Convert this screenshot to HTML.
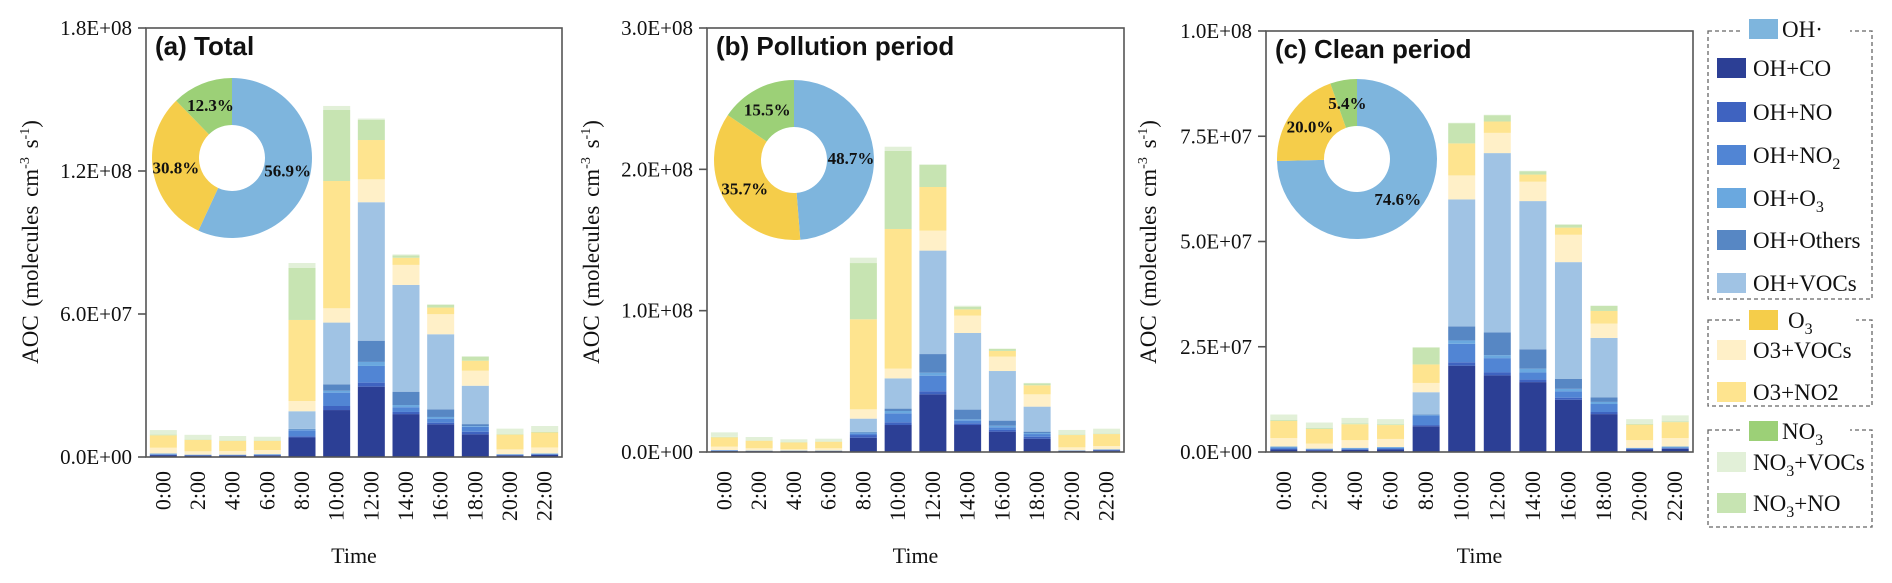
<!DOCTYPE html>
<html><head><meta charset="utf-8"><style>
html,body{margin:0;padding:0;background:#fff;}
svg{display:block;font-family:"Liberation Serif",serif;}
.ttl{font-family:"Liberation Sans",sans-serif;font-weight:bold;font-size:26px;}
</style></head><body>
<svg id="chart" width="1892" height="583" viewBox="0 0 1892 583" xmlns="http://www.w3.org/2000/svg"></svg>
<script>
const categories = ["0:00","2:00","4:00","6:00","8:00","10:00","12:00","14:00","16:00","18:00","20:00","22:00"];
const seriesNames = ["OH+CO","OH+NO","OH+NO2","OH+O3","OH+Others","OH+VOCs","O3+VOCs","O3+NO2","NO3+NO","NO3+VOCs"];
const seriesColors = ["#2c3f95","#3f63c0","#5185d4","#6aa8df","#5787c4","#a0c3e4","#fff0c8","#fee48f","#c7e4b2","#e2f0d8"];
// Panel (a) Total, values in 1e6 molecules cm-3 s-1
const totalCO     = [0.8,0.6,0.6,0.7,8.2,19.7,29.5,18,13.7,9.5,0.7,0.9];
const totalNO     = [0.1,0.1,0.1,0.1,0.5,1.7,1.7,0.9,0.7,1.1,0.1,0.1];
const totalNO2    = [0.3,0.2,0.2,0.2,2.5,5.6,7,2,1.7,2.1,0.2,0.3];
const totalO3     = [0.2,0.1,0.1,0.2,0.3,0.8,1.7,0.9,0.7,0.3,0.2,0.2];
const totalOthers = [0.1,0,0,0,0.3,2.7,8.9,5.6,3.2,0.8,0,0];
const totalVOCs   = [0,0,0,0,7.4,25.9,58.1,44.8,31.5,16.1,0,0];
const totalO3VOCs = [2.4,1.4,1.5,1.7,4.3,6,9.6,8.4,8.4,6.3,2.0,2.5];
const totalO3NO2  = [5.2,4.8,4.3,3.9,34,53.4,16.5,3,2.8,4.2,6.2,6.3];
const totalNO3NO  = [0.3,0.2,0.2,0.2,21.8,29.8,8.4,1,1.1,1.7,0.2,0.2];
const totalNO3VOCs= [1.9,1.9,1.8,1.5,2.1,1.7,0.6,0.4,0.3,0.2,2.3,2.5];
// Panel (b) Pollution period
const pollCO     = [0.8,0.6,0.6,0.6,10.1,19.1,40.8,19.1,14.4,9.4,0.7,1.1];
const pollNO     = [0.1,0.1,0.1,0.1,1.9,1.9,2.1,1.2,1.2,1.4,0.1,0.2];
const pollNO2    = [0.3,0.2,0.2,0.2,1.2,6.4,11.1,1.9,1.9,1.9,0.2,0.4];
const pollO3     = [0.2,0.1,0.1,0.1,0.5,1.6,2.1,0.9,1.1,0.7,0.2,0.2];
const pollOthers = [0,0,0,0,0.5,1.7,13.2,6.9,3.6,1,0,0];
const pollVOCs   = [0,0,0,0,9.4,21.4,73.2,54.2,35.1,17.7,0,0];
const pollO3VOCs = [2.4,1.6,0.9,1.6,6.6,6.9,14.1,12.3,10.2,8.7,2.1,2.3];
const pollO3NO2  = [6.6,5.4,4.9,4.7,63.7,98.8,30.9,4.4,4,6.4,8.7,8.5];
const pollNO3NO  = [0.3,0.2,0.2,0.2,39.8,55.2,15.8,1.9,1.4,1.4,0.3,0.3];
const pollNO3VOCs= [3.2,2.4,2.0,1.9,3.8,3,0.2,0.7,0.3,0.3,3.3,3.5];
// Panel (c) Clean period
const cleanCO     = [0.6,0.4,0.5,0.6,6.1,20.5,18.2,16.6,12.4,9,0.6,0.8];
const cleanNO     = [0.1,0.1,0.1,0.1,0.3,0.8,0.7,0.6,0.5,0.5,0.1,0.1];
const cleanNO2    = [0.4,0.2,0.2,0.3,2.3,4.4,3.4,1.7,1.5,1.9,0.2,0.2];
const cleanO3     = [0.2,0.1,0.2,0.2,0.1,0.8,0.7,0.9,0.6,0.5,0.1,0.2];
const cleanOthers = [0,0,0,0,0.1,3.3,5.4,4.6,2.4,1.1,0,0];
const cleanVOCs   = [0,0,0,0,5.3,30.2,42.6,35.2,27.7,14.1,0,0];
const cleanO3VOCs = [2.0,1.2,1.8,1.9,2.2,5.7,4.8,4.6,6.5,3.4,1.8,2.0];
const cleanO3NO2  = [4.1,3.5,3.8,3.3,4.4,7.6,2.7,1.7,1.7,3,3.7,3.8];
const cleanNO3NO  = [0.2,0.2,0.2,0.2,4.0,4.8,1.5,0.8,0.7,1.2,0.2,0.2];
const cleanNO3VOCs= [1.3,1.3,1.3,1.2,0.1,0.1,0.1,0.1,0.1,0.1,1.1,1.4];
// Donut shares (%)
const pieLabels = ["OH·","O3","NO3"];
const pieColors = ["#7eb5dd","#f5cd4a","#9cd077"];
const pieTotal = [56.9,30.8,12.3];
const piePoll  = [48.7,35.7,15.5];
const pieClean = [74.6,20.0,5.4];
// Tick labels
const ticksA = ["0.0E+00","6.0E+07","1.2E+08","1.8E+08"];
const ticksB = ["0.0E+00","1.0E+08","2.0E+08","3.0E+08"];
const ticksC = ["0.0E+00","2.5E+07","5.0E+07","7.5E+07","1.0E+08"];
const tickValsA = [0,60,120,180];
const tickValsB = [0,100,200,300];
const tickValsC = [0,25,50,75,100];

const NS="http://www.w3.org/2000/svg";
const svg=document.getElementById('chart');
function mk(tag,attrs,parent){const e=document.createElementNS(NS,tag);for(const k in attrs)e.setAttribute(k,attrs[k]);(parent||svg).appendChild(e);return e;}

const panels=[
 {key:'a',title:'(a) Total',x0:146,w:416,top:28,bot:457,max:180,ticks:ticksA,tv:tickValsA,ylx:30,
  data:[totalCO,totalNO,totalNO2,totalO3,totalOthers,totalVOCs,totalO3VOCs,totalO3NO2,totalNO3NO,totalNO3VOCs],
  pie:pieTotal,cx:232,cy:158},
 {key:'b',title:'(b) Pollution period',x0:707,w:417,top:28,bot:452,max:300,ticks:ticksB,tv:tickValsB,ylx:591,
  data:[pollCO,pollNO,pollNO2,pollO3,pollOthers,pollVOCs,pollO3VOCs,pollO3NO2,pollNO3NO,pollNO3VOCs],
  pie:piePoll,cx:794,cy:160},
 {key:'c',title:'(c) Clean period',x0:1266,w:427,top:31,bot:452,max:100,ticks:ticksC,tv:tickValsC,ylx:1148,
  data:[cleanCO,cleanNO,cleanNO2,cleanO3,cleanOthers,cleanVOCs,cleanO3VOCs,cleanO3NO2,cleanNO3NO,cleanNO3VOCs],
  pie:pieClean,cx:1357,cy:159}
];

panels.forEach(p=>{
  const g=mk('g',{});
  
  
  const band=p.w/categories.length, bw=27;
  const y=v=>p.bot-(v/p.max)*(p.bot-p.top);
  const xc=i=>p.x0+band*(i+0.5);
  categories.forEach((c,i)=>{
    let acc=0;
    p.data.forEach((arr,s)=>{
      const v=arr[i]; if(v<=0) return;
      const r=mk('rect',{x:(xc(i)-bw/2).toFixed(2),y:y(acc+v).toFixed(2),width:bw,height:(y(acc)-y(acc+v)).toFixed(2),fill:seriesColors[s]},g);
      
      
      acc+=v;
    });
    const t=mk('text',{x:0,y:0,transform:`translate(${(xc(i)+7).toFixed(1)},471) rotate(-90)`,'text-anchor':'end','font-size':22,fill:'#111'},g);
    t.textContent=c;
    
    
  });
  const fr=mk('rect',{x:p.x0,y:p.top,width:p.w,height:p.bot-p.top,fill:'none',stroke:'#555','stroke-width':1.6},g);
  
  
  p.tv.forEach((v,k)=>{
    mk('line',{x1:p.x0-8,x2:p.x0,y1:y(v),y2:y(v),stroke:'#555','stroke-width':1.6},g);
    const t=mk('text',{x:p.x0-14,y:y(v)+7,'text-anchor':'end','font-size':21,fill:'#111'},g);
    t.textContent=p.ticks[k];
    
    
  });
  const yt=mk('text',{x:0,y:0,transform:`translate(${p.ylx+8},242) rotate(-90)`,'text-anchor':'middle','font-size':23,fill:'#111','word-spacing':3},g);
  yt.innerHTML='AOC (molecules cm<tspan dy="-9" font-size="14">-3</tspan><tspan dy="9"> s</tspan><tspan dy="-9" font-size="14">-1</tspan><tspan dy="9">)</tspan>';
  
  
  const xt=mk('text',{x:p.x0+p.w/2,y:563,'text-anchor':'middle','font-size':22,fill:'#111'},g);
  xt.textContent='Time';
  
  
  const tt=mk('text',{x:p.x0+9,y:p.top+27,class:'ttl',fill:'#111'},g);
  tt.textContent=p.title;
  
  
  const R=80,r=33;let a0=0;const tot=p.pie.reduce((s,v)=>s+v,0);
  p.pie.forEach((v,k)=>{
    const a1=a0+v/tot*2*Math.PI;
    const pt=(rad,a)=>[p.cx+rad*Math.sin(a),p.cy-rad*Math.cos(a)];
    const large=(a1-a0)>Math.PI?1:0;
    const [x1,y1]=pt(R,a0),[x2,y2]=pt(R,a1),[x3,y3]=pt(r,a1),[x4,y4]=pt(r,a0);
    const path=mk('path',{d:`M${x1},${y1} A${R},${R} 0 ${large} 1 ${x2},${y2} L${x3},${y3} A${r},${r} 0 ${large} 0 ${x4},${y4} Z`,fill:pieColors[k]},g);
    
    
    const am=(a0+a1)/2;const [lx,ly]=pt(57,am);
    const lt=mk('text',{x:lx,y:ly+6,'text-anchor':'middle','font-size':17,'font-weight':'bold',fill:'#111'},g);
    lt.textContent=v.toFixed(1)+'%';
    
    
    a0=a1;
  });
});

const lg=mk('g',{});


function box(x,y,w,h){mk('rect',{x:x,y:y,width:w,height:h,fill:'none',stroke:'#666','stroke-width':1.3,'stroke-dasharray':'4,3'},lg);}
box(1708,31,164,268);box(1708,320,164,86);box(1708,430,164,97);
function header(y,color,html,tx){
  mk('rect',{x:1740,y:y-11,width:52,height:22,fill:'#fff'},lg);
  mk('rect',{x:1749,y:y-10,width:29,height:20,fill:color},lg);
  mk('rect',{x:tx-2,y:y-12,width:70,height:24,fill:'#fff'},lg);
  const t=mk('text',{x:tx,y:y+8,'font-size':23,fill:'#111'},lg);t.innerHTML=html;
  
  
}
function item(y,color,html){
  const s=mk('rect',{x:1717,y:y-10,width:29,height:20,fill:color},lg);
  
  
  const t=mk('text',{x:1753,y:y+8,'font-size':23,fill:'#111'},lg);t.innerHTML=html;
  
  
}
header(29,pieColors[0],'OH·',1782);
item(68,seriesColors[0],'OH+CO');
item(112,seriesColors[1],'OH+NO');
item(155,seriesColors[2],'OH+NO<tspan dy="6" font-size="16">2</tspan>');
item(198,seriesColors[3],'OH+O<tspan dy="6" font-size="16">3</tspan>');
item(240,seriesColors[4],'OH+Others');
item(283,seriesColors[5],'OH+VOCs');
header(320,pieColors[1],'O<tspan dy="6" font-size="16">3</tspan>',1788);
item(350,seriesColors[6],'O3+VOCs');
item(392,seriesColors[7],'O3+NO2');
header(431,pieColors[2],'NO<tspan dy="6" font-size="16">3</tspan>',1782);
item(462,seriesColors[9],'NO<tspan dy="6" font-size="16">3</tspan><tspan dy="-6">+VOCs</tspan>');
item(503,seriesColors[8],'NO<tspan dy="6" font-size="16">3</tspan><tspan dy="-6">+NO</tspan>');
</script>
</body></html>
